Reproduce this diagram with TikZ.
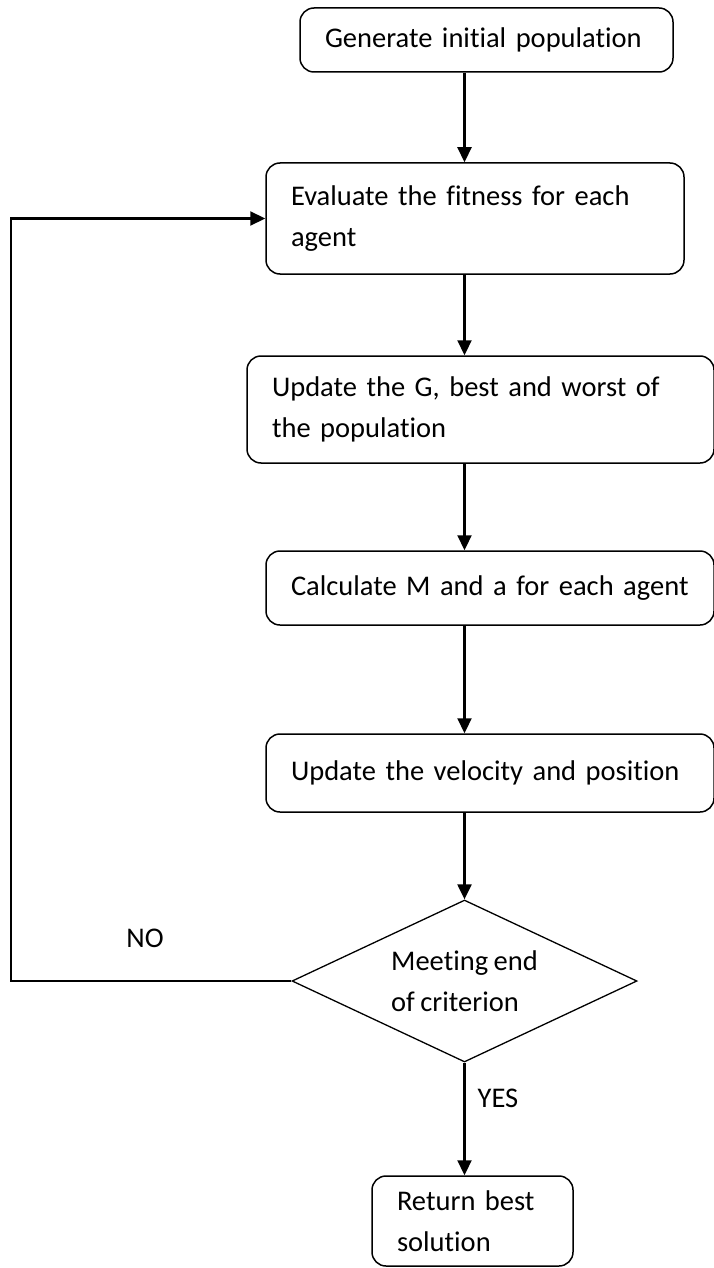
\documentclass[tikz,border=0pt]{standalone}
\usepackage{fontspec}
\setmainfont{Carlito}[Ligatures=NoCommon,WordSpace=0.85]
\usetikzlibrary{positioning}
\usetikzlibrary{shapes, arrows.meta}

\begin{document}
\begin{tikzpicture}[x=1pt,y=-1pt,
		stepbox/.style={draw,rounded corners=14pt,line width=1.5pt,inner xsep=25pt,inner ysep=0pt,align=left},
		arr/.style={line width=2.2pt,-{Triangle[length=15pt,width=14pt]}},
		font=\fontsize{28.5}{41}\selectfont]
		\useasboundingbox (0,0) rectangle (713,1268);
		\node [stepbox,minimum width=373pt,minimum height=64pt,text width=323pt] (gen) at (486.5,40) {Generate initial population};
		\node [stepbox,minimum width=418pt,minimum height=111pt,text width=368pt] (eval) at (475,218.5) {Evaluate the fitness for each\\agent};
		\node [stepbox,minimum width=467pt,minimum height=107pt,text width=417pt] (upd) at (480.5,409.5) {Update the G, best and worst of\\the population};
		\node [stepbox,minimum width=448pt,minimum height=74pt,text width=398pt] (calc) at (490,588) {Calculate M and a for each agent};
		\node [stepbox,minimum width=448pt,minimum height=78pt,text width=398pt] (vel) at (490,773) {Update the velocity and position};
		\node [draw,diamond,aspect=2.13,line width=1.3pt,minimum width=345pt,minimum height=162pt,inner sep=0pt,align=left] (dec) at (464.5,981) {Meeting end\\of criterion};
		\node [stepbox,minimum width=201pt,minimum height=90pt,text width=151pt] (ret) at (472.5,1221) {Return best\\solution};
		\node (no) at (145,938) {NO};
		\node (yes) at (498,1098) {YES};
		% flow
		\draw [arr] (gen.south -| dec.north) -- (eval.north -| dec.north);
		\draw [arr] (eval.south -| dec.north) -- (upd.north -| dec.north);
		\draw [arr] (upd.south -| dec.north) -- (calc.north -| dec.north);
		\draw [arr] (calc.south -| dec.north) -- (vel.north -| dec.north);
		\draw [arr] (vel.south -| dec.north) -- (dec.north);
		\draw [arr] (dec.south) -- (ret.north -| dec.south);
		% back to evaluation
		\draw [arr] (dec.west) -- ++(-280,0) |- (eval.west);
	\end{tikzpicture}
\end{document}
